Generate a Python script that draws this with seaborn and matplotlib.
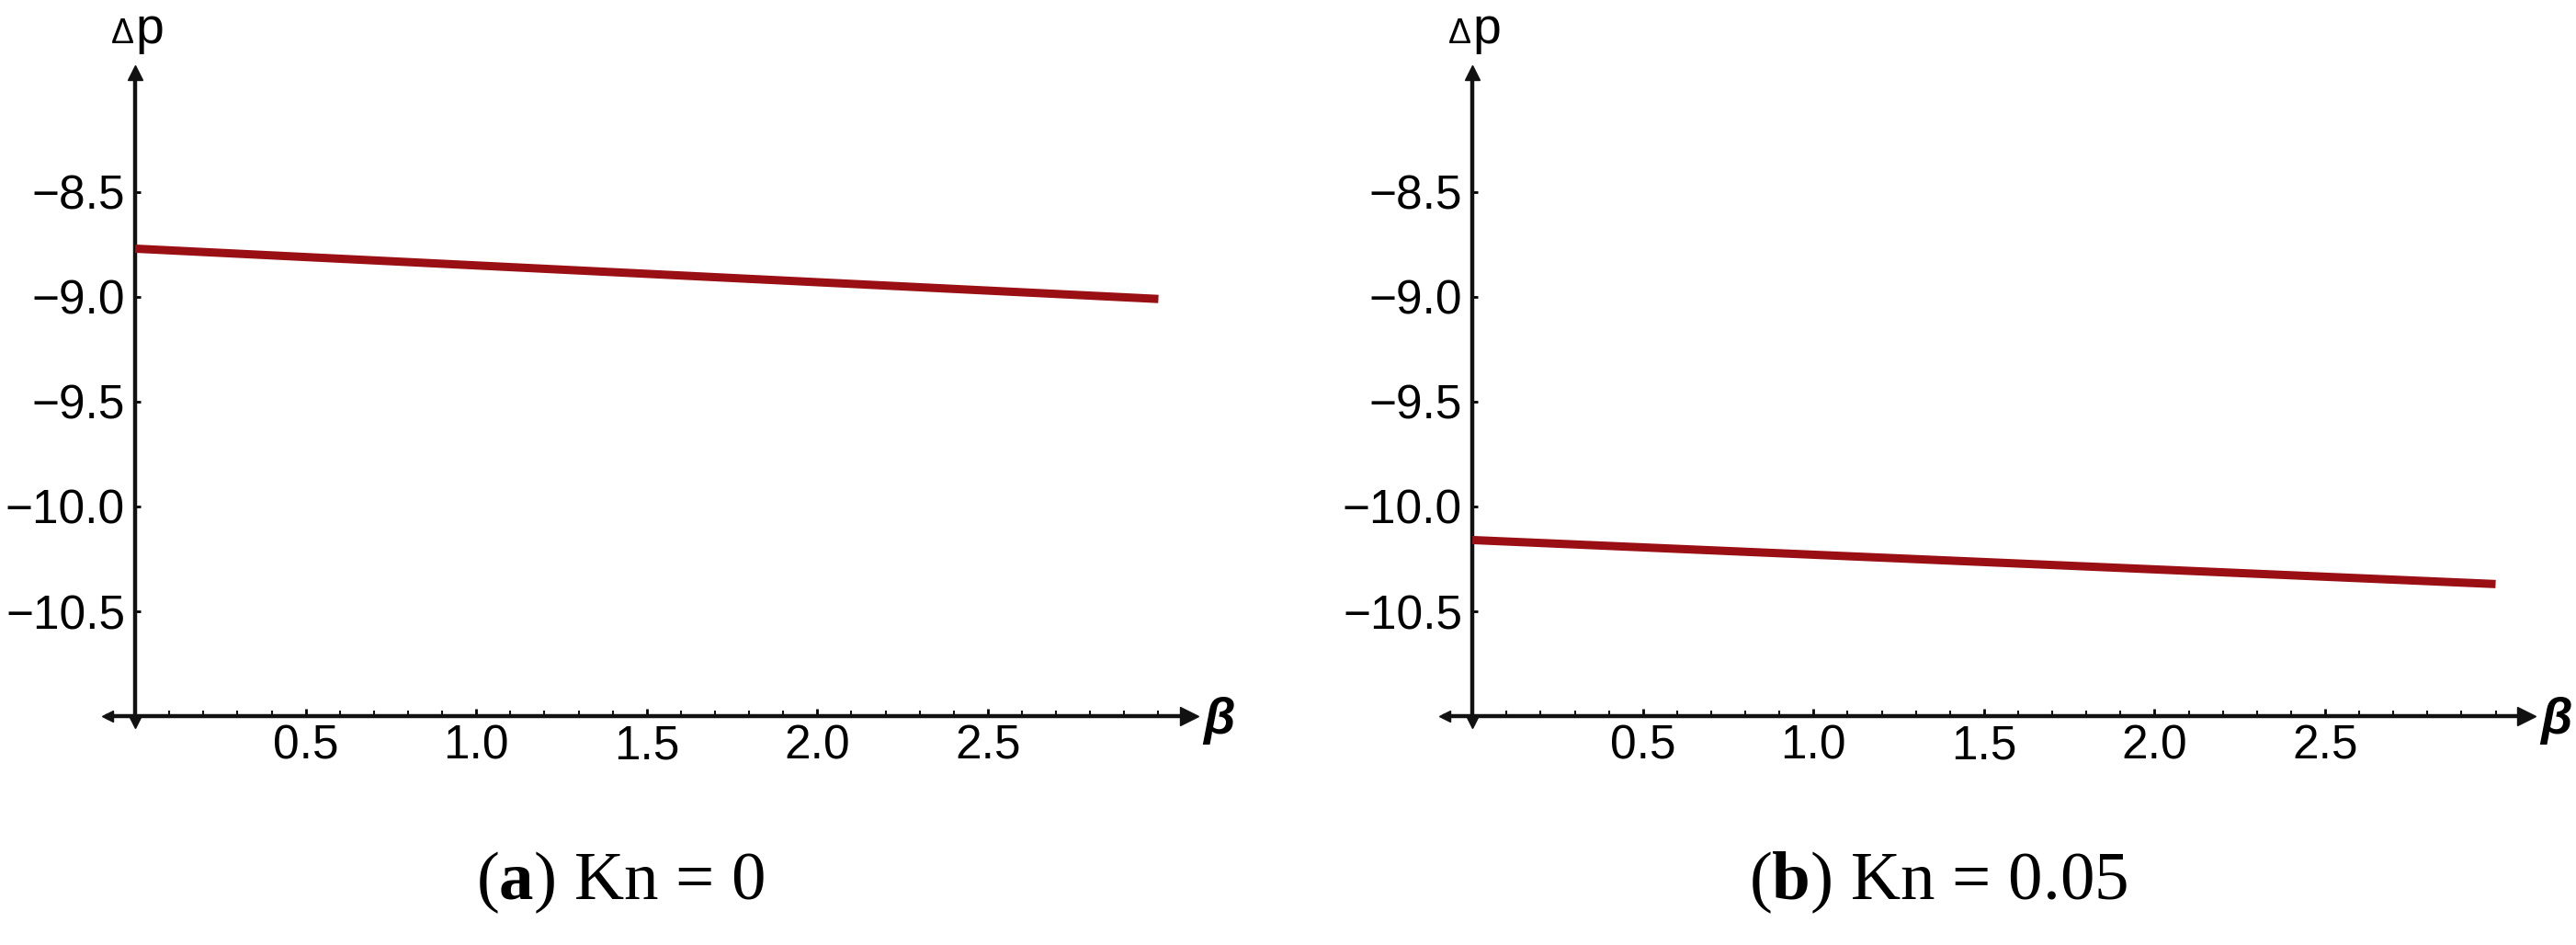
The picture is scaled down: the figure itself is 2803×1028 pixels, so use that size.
import numpy as np
import pandas as pd
import matplotlib
matplotlib.use("Agg")
import matplotlib.pyplot as plt
import seaborn as sns

# valores
beta = [0.0, 0.5, 1.0, 1.5, 2.0, 2.5, 3.0]
dp_kn0 = [-8.77, -8.81, -8.85, -8.89, -8.93, -8.97, -9.01]
dp_kn005 = [-10.16, -10.195, -10.23, -10.265, -10.30, -10.335, -10.37]
x_ticks = [0.5, 1.0, 1.5, 2.0, 2.5]
y_ticks = [-8.5, -9.0, -9.5, -10.0, -10.5]
captions = [("a", "Kn = 0"), ("b", "Kn = 0.05")]

sns.set_theme(style="white")
plt.rcParams["font.family"] = ["Liberation Sans", "DejaVu Sans"]
plt.rcParams["mathtext.fontset"] = "custom"
plt.rcParams["mathtext.rm"] = "Liberation Serif"
plt.rcParams["mathtext.bf"] = "Liberation Serif:bold"

line_color = "#9a0f14"
axis_color = "#111111"


def draw_panel(ax, values):
    df = pd.DataFrame({"beta": beta, "dp": values})
    sns.lineplot(data=df, x="beta", y="dp", ax=ax, color=line_color,
                 linewidth=6.5, solid_capstyle="butt", zorder=3)
    ax.set_xlim(-0.08, 3.09)
    ax.set_ylim(-11.0, -7.93)
    ax.set_xlabel("")
    ax.set_ylabel("")

    for s in ["top", "right"]:
        ax.spines[s].set_visible(False)
    ax.spines["left"].set_position(("data", 0))
    for s in ["left", "bottom"]:
        ax.spines[s].set_linewidth(3.2)
        ax.spines[s].set_color(axis_color)

    ax.set_xticks(x_ticks)
    ax.set_xticks(np.arange(0.1, 3.05, 0.1), minor=True)
    ax.set_xticklabels([f"{t:.1f}" for t in x_ticks])
    ax.set_yticks(y_ticks)
    ax.set_yticklabels([f"\u2212{abs(t):.1f}" for t in y_ticks])
    ax.tick_params(axis="x", which="major", direction="in", length=6, width=2,
                   labelsize=37, pad=6, colors="black")
    ax.tick_params(axis="x", which="minor", direction="in", length=4, width=1.5,
                   colors=axis_color)
    ax.tick_params(axis="y", which="major", direction="in", length=4, width=2,
                   labelsize=37, pad=8, colors="black")
    ax.tick_params(bottom=True, left=True, which="both")

    # pontas de seta nos eixos
    ax.plot(1, -11.0, ">", color=axis_color, markersize=14,
            transform=ax.get_yaxis_transform(), clip_on=False)
    ax.plot(0, -11.0, "<", color=axis_color, markersize=9,
            transform=ax.get_yaxis_transform(), clip_on=False)
    ax.plot(0, 1, "^", color=axis_color, markersize=12,
            transform=ax.get_xaxis_transform(), clip_on=False)
    ax.plot(0, -11.03, "v", color=axis_color, markersize=8, clip_on=False)

    ax.text(3.13, -11.02, "\u03b2", fontsize=40, style="italic", fontweight="bold",
            ha="left", va="center", color="black")
    ax.text(-0.004, 1.045, "\u0394", fontsize=27, ha="right", va="baseline",
            transform=ax.get_xaxis_transform(), color="black")
    ax.text(0.0, 1.045, "p", fontsize=40, ha="left", va="baseline",
            transform=ax.get_xaxis_transform(), color="black")


fig = plt.figure(figsize=(28.03, 10.28), dpi=100)
fig.patch.set_facecolor("white")

ax1 = fig.add_axes([0.0419, 0.2422, 0.4197, 0.681])
ax2 = fig.add_axes([0.561, 0.2422, 0.4197, 0.681])
draw_panel(ax1, dp_kn0)
draw_panel(ax2, dp_kn005)

for xc, (letter, txt) in zip([675 / 2803, 2109 / 2803], captions):
    fig.text(xc, 1 - 960 / 1028, "(" + r"$\mathbf{" + letter + "}$" + ") " + txt,
             family="Liberation Serif", fontsize=54, ha="center", va="center",
             color="black")

fig.savefig("out.png", dpi=100, facecolor="white")
